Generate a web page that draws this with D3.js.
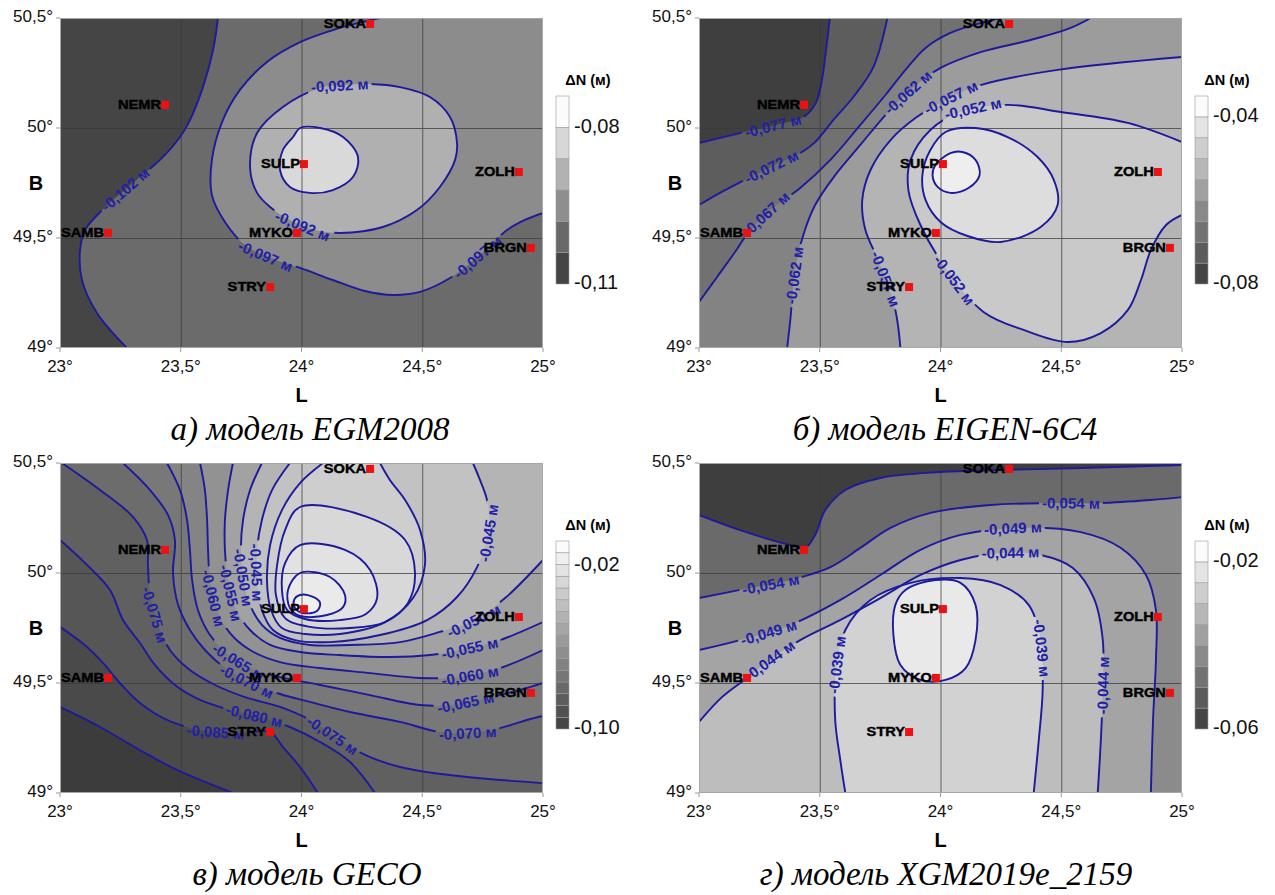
<!DOCTYPE html>
<html>
<head>
<meta charset="utf-8">
<script src="https://cdn.jsdelivr.net/npm/d3@7"></script>
<style>
  body { margin: 0; background: #fff; }
  svg text { font-family: "Liberation Sans", Arial, sans-serif; }
</style>
</head>
<body>
<svg id="chart" width="1275" height="895"></svg>
<script>
// ---------- axes ----------
const lonTicks = [23, 23.5, 24, 24.5, 25];
const lonTickLabels = ["23°", "23,5°", "24°", "24,5°", "25°"];
const latTicks = [49, 49.5, 50, 50.5];
const latTickLabels = ["49°", "49,5°", "50°", "50,5°"];
const lonGrid = [23.5, 24, 24.5];
const latGrid = [49.5, 50];

// ---------- GNSS stations (L, B in degrees) ----------
const stationNames = ["SOKA", "NEMR", "SULP", "ZOLH", "SAMB", "MYKO", "STRY", "BRGN"];
const stationLon = [24.284, 23.435, 24.010, 24.900, 23.199, 23.981, 23.870, 24.950];
const stationLat = [50.473, 50.105, 49.836, 49.800, 49.523, 49.523, 49.277, 49.455];

// ---------- а) EGM2008 ----------
const egmLevels = [-0.102, -0.097, -0.092, -0.087];
const egmContours = [
  { level: -0.102, pts: [[23.654,50.5],[23.634,50.355],[23.592,50.186],[23.538,50.036],[23.497,49.959],[23.414,49.855],[23.29,49.74],[23.166,49.618],[23.104,49.536],[23.083,49.445],[23.091,49.309],[23.153,49.159],[23.277,49.0]] },
  { level: -0.097, pts: [[24.325,50.5],[24.22,50.473],[24.13,50.445],[23.994,50.39],[23.857,50.30],[23.745,50.173],[23.671,50.027],[23.629,49.855],[23.629,49.695],[23.683,49.573],[23.766,49.468],[23.87,49.409],[23.994,49.364],[24.13,49.309],[24.263,49.259],[24.379,49.241],[24.491,49.255],[24.615,49.318],[24.739,49.423],[24.851,49.536],[24.925,49.582],[25.0,49.614]] },
  { level: -0.092, closed: true, pts: [[24.18,50.195],[24.077,50.182],[23.923,50.095],[23.816,49.977],[23.787,49.823],[23.816,49.705],[23.87,49.641],[23.952,49.582],[24.056,49.536],[24.159,49.523],[24.337,49.55],[24.478,49.627],[24.573,49.732],[24.636,49.855],[24.644,49.932],[24.615,50.05],[24.532,50.141],[24.408,50.186],[24.284,50.20]] },
  { level: -0.087, closed: true, pts: [[23.994,50.0],[24.077,50.0],[24.172,49.959],[24.234,49.868],[24.213,49.777],[24.13,49.718],[24.035,49.705],[23.952,49.732],[23.911,49.809],[23.923,49.90],[23.965,49.959]] }
];
const egmLabels = [
  { level: -0.102, at: [23.27, 49.72] },
  { level: -0.097, at: [23.857, 49.43] },
  { level: -0.097, at: [24.73, 49.41] },
  { level: -0.092, at: [24.16, 50.19] },
  { level: -0.092, at: [24.01, 49.57] }
];

// ---------- б) EIGEN-6C4 ----------
const eigenLevels = [-0.077, -0.072, -0.067, -0.062, -0.057, -0.052, -0.047, -0.042];
const eigenContours = [
  { level: -0.077, pts: [[23.0,49.932],[23.17,49.977],[23.335,50.018],[23.439,50.055],[23.484,50.114],[23.509,50.218],[23.526,50.355],[23.542,50.5]] },
  { level: -0.072, pts: [[23.0,49.65],[23.087,49.705],[23.19,49.764],[23.315,49.832],[23.419,49.886],[23.481,49.936],[23.556,50.036],[23.639,50.141],[23.722,50.277],[23.78,50.5]] },
  { level: -0.067, pts: [[23.0,49.209],[23.075,49.323],[23.149,49.436],[23.203,49.523],[23.295,49.627],[23.419,49.727],[23.544,49.855],[23.668,50.014],[23.772,50.15],[23.855,50.264],[23.938,50.364],[24.041,50.432],[24.166,50.477],[24.249,50.5]] },
  { level: -0.062, pts: [[23.365,49.0],[23.378,49.127],[23.398,49.355],[23.432,49.514],[23.481,49.65],[23.564,49.786],[23.668,49.923],[23.772,50.059],[23.876,50.173],[24.0,50.273],[24.166,50.345],[24.373,50.4],[24.539,50.455],[24.622,50.5]] },
  { level: -0.057, pts: [[23.834,49.0],[23.813,49.173],[23.751,49.377],[23.689,49.536],[23.676,49.673],[23.71,49.809],[23.793,49.945],[23.896,50.045],[24.021,50.127],[24.166,50.195],[24.485,50.264],[25.0,50.323]] },
  { level: -0.052, pts: [[25.0,49.936],[24.776,50.023],[24.498,50.073],[24.278,50.105],[24.083,50.073],[23.958,49.991],[23.876,49.855],[23.867,49.718],[23.917,49.559],[24.021,49.364],[24.178,49.164],[24.344,49.082],[24.527,49.027],[24.664,49.068],[24.776,49.173],[24.83,49.309],[24.871,49.445],[24.934,49.559],[25.0,49.605]] },
  { level: -0.047, closed: true, pts: [[24.021,49.982],[24.145,50.0],[24.278,49.959],[24.402,49.868],[24.469,49.764],[24.485,49.65],[24.415,49.55],[24.249,49.482],[24.112,49.509],[24.0,49.573],[23.938,49.673],[23.925,49.786],[23.958,49.9]] },
  { level: -0.042, closed: true, pts: [[23.979,49.832],[24.041,49.886],[24.091,49.891],[24.145,49.855],[24.162,49.786],[24.116,49.727],[24.041,49.705],[23.988,49.732],[23.967,49.786]] }
];
const eigenLabels = [
  { level: -0.077, at: [23.306, 50.005] },
  { level: -0.072, at: [23.303, 49.818] },
  { level: -0.067, at: [23.282, 49.605] },
  { level: -0.062, at: [23.378, 49.332] },
  { level: -0.062, at: [23.863, 50.164] },
  { level: -0.057, at: [23.743, 49.30] },
  { level: -0.057, at: [24.042, 50.141] },
  { level: -0.052, at: [24.133, 50.091] },
  { level: -0.052, at: [24.042, 49.295] }
];

// ---------- в) GECO ----------
const gecoLevels = [-0.090, -0.085, -0.080, -0.075, -0.070, -0.065, -0.060, -0.055, -0.050, -0.045, -0.040, -0.035, -0.030, -0.025, -0.020];
const gecoContours = [
  { level: -0.090, pts: [[23.0,49.391],[23.166,49.3],[23.331,49.195],[23.484,49.105],[23.716,49.0]] },
  { level: -0.085, pts: [[23.0,49.755],[23.112,49.664],[23.178,49.591],[23.248,49.5],[23.331,49.409],[23.443,49.332],[23.58,49.286],[23.745,49.273],[23.87,49.277],[23.923,49.209],[23.994,49.118],[24.068,49.0]] },
  { level: -0.080, pts: [[23.0,50.15],[23.104,50.045],[23.207,49.923],[23.261,49.786],[23.331,49.682],[23.393,49.582],[23.476,49.491],[23.58,49.423],[23.704,49.377],[23.828,49.345],[23.952,49.3],[24.077,49.232],[24.201,49.141],[24.304,49.0]] },
  { level: -0.075, pts: [[23.008,50.5],[23.166,50.377],[23.302,50.255],[23.36,50.15],[23.364,50.036],[23.373,49.9],[23.406,49.764],[23.455,49.65],[23.538,49.559],[23.642,49.491],[23.766,49.436],[23.911,49.391],[24.035,49.332],[24.139,49.255],[24.263,49.173],[24.408,49.118],[24.545,49.091],[24.685,49.073],[24.822,49.059],[25.0,49.045]] },
  { level: -0.070, pts: [[23.261,50.5],[23.373,50.377],[23.447,50.264],[23.476,50.15],[23.468,50.0],[23.489,49.855],[23.538,49.741],[23.6,49.65],[23.683,49.568],[23.787,49.5],[23.911,49.45],[24.035,49.414],[24.201,49.368],[24.408,49.323],[24.573,49.277],[24.698,49.273],[24.822,49.295],[24.934,49.332],[25.0,49.35]] },
  { level: -0.065, pts: [[23.443,50.5],[23.497,50.377],[23.526,50.241],[23.538,50.105],[23.547,49.968],[23.571,49.832],[23.621,49.718],[23.683,49.641],[23.787,49.568],[23.911,49.527],[24.077,49.491],[24.284,49.445],[24.491,49.4],[24.615,49.4],[24.781,49.436],[24.905,49.468],[25.0,49.5]] },
  { level: -0.060, pts: [[23.58,50.5],[23.6,50.377],[23.609,50.241],[23.613,50.105],[23.621,49.968],[23.65,49.832],[23.704,49.727],[23.787,49.65],[23.911,49.595],[24.077,49.568],[24.284,49.545],[24.491,49.523],[24.656,49.527],[24.822,49.568],[25.0,49.65]] },
  { level: -0.055, pts: [[23.716,50.5],[23.696,50.377],[23.683,50.241],[23.683,50.105],[23.696,49.968],[23.729,49.832],[23.787,49.741],[23.87,49.673],[23.994,49.641],[24.159,49.627],[24.366,49.618],[24.532,49.627],[24.698,49.659],[24.822,49.695],[25.0,49.777]] },
  { level: -0.050, pts: [[23.836,50.5],[23.787,50.377],[23.758,50.241],[23.749,50.105],[23.758,49.982],[23.787,49.855],[23.836,49.764],[23.911,49.705],[24.035,49.673],[24.201,49.673],[24.408,49.686],[24.573,49.732],[24.718,49.786],[24.843,49.886],[25.0,50.059]] },
  { level: -0.045, pts: [[23.952,50.5],[23.878,50.377],[23.836,50.241],[23.816,50.105],[23.816,49.968],[23.836,49.832],[23.882,49.741],[23.973,49.695],[24.118,49.686],[24.325,49.718],[24.52,49.786],[24.644,49.891],[24.727,50.027],[24.776,50.195],[24.768,50.332],[24.739,50.423],[24.71,50.5]] },
  { level: -0.040, pts: [[24.089,50.5],[23.994,50.409],[23.919,50.286],[23.87,50.127],[23.857,49.968],[23.874,49.832],[23.919,49.75],[24.014,49.723],[24.159,49.723],[24.346,49.777],[24.462,49.886],[24.511,50.036],[24.491,50.195],[24.429,50.332],[24.366,50.423],[24.325,50.5]] },
  { level: -0.035, closed: true, pts: [[23.994,50.3],[24.271,50.255],[24.429,50.15],[24.47,50.0],[24.441,49.864],[24.346,49.777],[24.201,49.75],[24.035,49.755],[23.932,49.795],[23.894,49.9],[23.899,50.036],[23.932,50.195]] },
  { level: -0.030, closed: true, pts: [[23.994,50.127],[24.18,50.105],[24.284,50.014],[24.313,49.886],[24.267,49.814],[24.159,49.786],[24.014,49.791],[23.94,49.832],[23.919,49.923],[23.932,50.045]] },
  { level: -0.025, closed: true, pts: [[23.994,50.0],[24.118,49.982],[24.18,49.9],[24.172,49.845],[24.106,49.809],[23.994,49.805],[23.952,49.841],[23.944,49.923]] },
  { level: -0.020, closed: true, pts: [[23.994,49.9],[24.048,49.891],[24.077,49.864],[24.064,49.827],[24.006,49.818],[23.973,49.841],[23.969,49.877]] }
];
const gecoLabels = [
  { level: -0.085, at: [23.642, 49.273] },
  { level: -0.080, at: [23.80, 49.332] },
  { level: -0.075, at: [23.393, 49.809] },
  { level: -0.075, at: [24.13, 49.264] },
  { level: -0.070, at: [23.774, 49.505] },
  { level: -0.070, at: [24.689, 49.268] },
  { level: -0.065, at: [23.745, 49.605] },
  { level: -0.065, at: [24.677, 49.414] },
  { level: -0.060, at: [23.629, 49.886] },
  { level: -0.060, at: [24.698, 49.527] },
  { level: -0.055, at: [23.704, 49.909] },
  { level: -0.055, at: [24.698, 49.65] },
  { level: -0.050, at: [23.758, 49.982] },
  { level: -0.050, at: [24.71, 49.791] },
  { level: -0.045, at: [23.82, 50.005] },
  { level: -0.045, at: [24.756, 50.186] }
];

// ---------- г) XGM2019e_2159 ----------
const xgmLevels = [-0.059, -0.054, -0.049, -0.044, -0.039, -0.034];
const xgmContours = [
  { level: -0.059, pts: [[23.0,50.264],[23.17,50.195],[23.378,50.127],[23.44,50.114],[23.481,50.173],[23.523,50.286],[23.606,50.377],[23.751,50.432],[24.0,50.459],[24.249,50.468],[24.581,50.477],[25.0,50.491]] },
  { level: -0.054, pts: [[23.0,49.886],[23.17,49.923],[23.378,49.968],[23.544,50.027],[23.668,50.114],[23.793,50.205],[23.959,50.273],[24.207,50.309],[24.456,50.318],[24.664,50.318],[24.871,50.332],[25.0,50.345]] },
  { level: -0.049, pts: [[23.0,49.65],[23.17,49.695],[23.378,49.764],[23.584,49.877],[23.751,49.991],[23.917,50.105],[24.083,50.173],[24.332,50.205],[24.581,50.186],[24.747,50.114],[24.851,49.991],[24.892,49.832],[24.892,49.605],[24.88,49.332],[24.871,49.0]] },
  { level: -0.044, pts: [[23.0,49.323],[23.095,49.436],[23.199,49.523],[23.295,49.605],[23.419,49.695],[23.584,49.786],[23.751,49.886],[23.917,49.991],[24.083,50.059],[24.249,50.091],[24.415,50.082],[24.548,50.023],[24.635,49.886],[24.672,49.695],[24.672,49.468],[24.664,49.241],[24.651,49.0]] },
  { level: -0.039, pts: [[23.606,49.0],[23.585,49.15],[23.564,49.332],[23.568,49.559],[23.606,49.741],[23.71,49.877],[23.876,49.955],[24.083,49.977],[24.249,49.945],[24.365,49.855],[24.415,49.695],[24.423,49.468],[24.407,49.241],[24.386,49.0]] },
  { level: -0.034, closed: true, pts: [[23.855,49.923],[23.979,49.968],[24.083,49.955],[24.145,49.855],[24.145,49.695],[24.104,49.568],[24.021,49.514],[23.917,49.514],[23.834,49.582],[23.805,49.718],[23.813,49.855]] }
];
const xgmLabels = [
  { level: -0.054, at: [23.295, 49.955] },
  { level: -0.054, at: [24.539, 50.309] },
  { level: -0.049, at: [23.286, 49.741] },
  { level: -0.049, at: [24.299, 50.209] },
  { level: -0.044, at: [23.307, 49.582] },
  { level: -0.044, at: [24.29, 50.091] },
  { level: -0.044, at: [24.668, 49.491] },
  { level: -0.039, at: [23.568, 49.582] },
  { level: -0.039, at: [24.415, 49.659] }
];

// ---------- colour-bar ranges ----------
const egmBar = { min: -0.110, max: -0.074, bands: 6, ticks: [-0.08, -0.11] };
const eigenBar = { min: -0.080, max: -0.035, bands: 9, ticks: [-0.04, -0.08] };
const gecoBar = { min: -0.100, max: -0.008, bands: 16, ticks: [-0.02, -0.10] };
const xgmBar = { min: -0.060, max: -0.015, bands: 9, ticks: [-0.02, -0.06] };

// ---------- layout & styles ----------
const PW = 483, PH = 330;
const panels = [
  { key: "a", x: 60, y: 18, caption: "а) модель EGM2008", capX: 310,
    levels: egmLevels, contours: egmContours, labels: egmLabels, bar: egmBar,
    fills: ["#454545", "#6b6b6b", "#8c8c8c", "#b0b0b0", "#d9d9d9"] },
  { key: "b", x: 699, y: 18, caption: "б) модель EIGEN-6C4", capX: 945,
    levels: eigenLevels, contours: eigenContours, labels: eigenLabels, bar: eigenBar,
    fills: ["#3f3f3f", "#5d5d5d", "#717171", "#838383", "#9c9c9c", "#b4b4b4", "#c9c9c9", "#dddddd", "#eeeeee"] },
  { key: "c", x: 60, y: 463, caption: "в) модель GECO", capX: 307,
    levels: gecoLevels, contours: gecoContours, labels: gecoLabels, bar: gecoBar,
    fills: ["#3c3c3c", "#4a4a4a", "#565656", "#606060", "#6c6c6c", "#787878", "#848484", "#929292", "#a2a2a2", "#b4b4b4", "#c2c2c2", "#cecece", "#d8d8d8", "#e2e2e2", "#eaeaea", "#f0f0f0"] },
  { key: "d", x: 699, y: 463, caption: "г) модель XGM2019e_2159", capX: 946,
    levels: xgmLevels, contours: xgmContours, labels: xgmLabels, bar: xgmBar,
    fills: ["#3e3e3e", "#6a6a6a", "#8b8b8b", "#a4a4a4", "#bdbdbd", "#d2d2d2", "#e9e9e9"] }
];
// point on the high side of every contour (the SULP maximum)
const peak = [stationLon[2], stationLat[2]];

const LINE_COLOR = "#1b1b9c";
const svg = d3.select("#chart");
const fmtLevel = v => d3.format(".3f")(v).replace("−", "-").replace(".", ",") + " м";
const fmtTick = v => d3.format(".2f")(v).replace("−", "-").replace(".", ",");

// clockwise perimeter parameter of a point lying on the frame
function perimT(q) {
  const [qx, qy] = q;
  const d = [Math.abs(qy), Math.abs(qx - PW), Math.abs(qy - PH), Math.abs(qx)];
  const m = Math.min(...d);
  if (m === d[0]) return qx;
  if (m === d[1]) return PW + qy;
  if (m === d[2]) return PW + PH + (PW - qx);
  return 2 * PW + PH + (PH - qy);
}
const frameCorners = [[0, 0, 0], [PW, 0, PW], [PW, PH, PW + PH], [0, PH, 2 * PW + PH]];
function closingCorners(pts, cw) {
  const P = 2 * (PW + PH);
  const tEnd = perimT(pts[pts.length - 1]), tStart = perimT(pts[0]);
  const span = cw ? (tStart - tEnd + P) % P : (tEnd - tStart + P) % P;
  return frameCorners
    .map(c => ({ p: [c[0], c[1]], off: cw ? (c[2] - tEnd + P) % P : (tEnd - c[2] + P) % P }))
    .filter(c => c.off > 0 && c.off < span)
    .sort((a, b) => a.off - b.off)
    .map(c => c.p);
}

function drawPanel(p) {
  const g = svg.append("g").attr("transform", `translate(${p.x},${p.y})`);
  const x = d3.scaleLinear().domain([23, 25]).range([0, PW]);
  const y = d3.scaleLinear().domain([49, 50.5]).range([PH, 0]);
  const defs = g.append("defs");
  const clipId = "clip-" + p.key, maskId = "mask-" + p.key;
  defs.append("clipPath").attr("id", clipId).append("rect").attr("width", PW).attr("height", PH);
  const mask = defs.append("mask").attr("id", maskId).attr("maskUnits", "userSpaceOnUse")
    .attr("x", -20).attr("y", -20).attr("width", PW + 40).attr("height", PH + 40);
  mask.append("rect").attr("x", -20).attr("y", -20).attr("width", PW + 40).attr("height", PH + 40).attr("fill", "#fff");

  const openLine = d3.line().x(d => x(d[0])).y(d => y(d[1])).curve(d3.curveCatmullRom.alpha(0.5));
  const closedLine = d3.line().x(d => x(d[0])).y(d => y(d[1])).curve(d3.curveCatmullRomClosed.alpha(0.5));
  const hi = [x(peak[0]), y(peak[1])];

  // filled bands: paint each super-level region in ascending order
  const fillG = g.append("g").attr("clip-path", `url(#${clipId})`);
  fillG.append("rect").attr("width", PW).attr("height", PH).attr("fill", p.fills[0]);
  const sorted = p.contours.slice().sort((a, b) => a.level - b.level);
  sorted.forEach(c => {
    const color = p.fills[p.levels.indexOf(c.level) + 1];
    const pts = c.pts.map(d => [x(d[0]), y(d[1])]);
    let d;
    if (c.closed) {
      d = closedLine(c.pts);
      if (!d3.polygonContains(pts, hi)) d = `M0,0H${PW}V${PH}H0Z` + d;
    } else {
      const cw = closingCorners(pts, true), ccw = closingCorners(pts, false);
      const use = d3.polygonContains(pts.concat(cw), hi) ? cw : ccw;
      d = openLine(c.pts) + use.map(q => `L${q[0]},${q[1]}`).join("") + "Z";
    }
    fillG.append("path").attr("d", d).attr("fill", color).attr("fill-rule", "evenodd");
  });

  // graticule
  const gridG = g.append("g").attr("stroke", "#3a3a3a").attr("stroke-width", 1).attr("opacity", 0.75);
  gridG.selectAll("line.v").data(lonGrid).join("line")
    .attr("x1", d => x(d) + 0.5).attr("x2", d => x(d) + 0.5).attr("y1", 0).attr("y2", PH);
  gridG.selectAll("line.h").data(latGrid).join("line")
    .attr("y1", d => y(d) + 0.5).attr("y2", d => y(d) + 0.5).attr("x1", 0).attr("x2", PW);

  // contour lines
  const lineG = g.append("g").attr("clip-path", `url(#${clipId})`).append("g").attr("mask", `url(#${maskId})`);
  const nodes = p.contours.map(c => {
    const path = lineG.append("path")
      .attr("d", c.closed ? closedLine(c.pts) : openLine(c.pts))
      .attr("fill", "none").attr("stroke", LINE_COLOR).attr("stroke-width", 1.9);
    return { level: c.level, node: path.node() };
  });

  // contour labels placed along their line
  const labelG = g.append("g");
  p.labels.forEach(lb => {
    const target = [x(lb.at[0]), y(lb.at[1])];
    let best = null;
    nodes.filter(n => n.level === lb.level).forEach(n => {
      const len = n.node.getTotalLength();
      for (let l = 0; l <= len; l += 1) {
        const pt = n.node.getPointAtLength(l);
        const dd = (pt.x - target[0]) ** 2 + (pt.y - target[1]) ** 2;
        if (!best || dd < best.dd) best = { dd, node: n.node, l, len };
      }
    });
    if (!best) return;
    const a = best.node.getPointAtLength(Math.max(0, best.l - 6));
    const b = best.node.getPointAtLength(Math.min(best.len, best.l + 6));
    let ang = Math.atan2(b.y - a.y, b.x - a.x) * 180 / Math.PI;
    if (ang > 90) ang -= 180;
    if (ang < -90) ang += 180;
    const c = best.node.getPointAtLength(best.l);
    const tr = `translate(${c.x},${c.y}) rotate(${ang})`;
    const t = labelG.append("text").attr("transform", tr)
      .attr("text-anchor", "middle").attr("dy", "0.36em")
      .attr("font-size", 15).attr("font-weight", "bold").attr("fill", "#2020a8")
      .text(fmtLevel(lb.level));
    const w = t.node().getComputedTextLength();
    mask.append("rect").attr("transform", tr)
      .attr("x", -w / 2 - 3).attr("y", -7).attr("width", w + 6).attr("height", 14).attr("fill", "#000");
  });

  // stations
  const st = g.append("g");
  stationNames.forEach((name, i) => {
    const sx = x(stationLon[i]), sy = y(stationLat[i]);
    st.append("rect").attr("x", sx - 4).attr("y", sy - 4).attr("width", 8).attr("height", 8).attr("fill", "#ee1111");
    st.append("text").attr("transform", `translate(${sx - 4},${sy + 4.3}) scale(1.22,1)`)
      .attr("text-anchor", "end").attr("font-size", 12).attr("font-weight", "bold")
      .attr("fill", "#000").attr("stroke", "#000").attr("stroke-width", 0.4)
      .text(name);
  });

  // frame and ticks
  g.append("rect").attr("x", 0.5).attr("y", 0.5).attr("width", PW - 1).attr("height", PH - 1)
    .attr("fill", "none").attr("stroke", "#a8a8a8");
  const ax = g.append("g").attr("fill", "#111").attr("font-size", 17);
  lonTicks.forEach((v, i) => {
    g.append("line").attr("x1", x(v)).attr("x2", x(v)).attr("y1", PH).attr("y2", PH + 4).attr("stroke", "#999");
    ax.append("text").attr("x", x(v)).attr("y", PH + 20).attr("text-anchor", "middle")
      .attr("dominant-baseline", "middle").text(lonTickLabels[i]);
  });
  latTicks.forEach((v, i) => {
    g.append("line").attr("x1", -4).attr("x2", 0).attr("y1", y(v)).attr("y2", y(v)).attr("stroke", "#999");
    ax.append("text").attr("x", -7).attr("y", y(v)).attr("text-anchor", "end")
      .attr("dominant-baseline", "middle").text(latTickLabels[i]);
  });
  g.append("text").attr("x", PW / 2).attr("y", PH + 54).attr("text-anchor", "middle")
    .attr("font-size", 20).attr("font-weight", "bold").text("L");
  g.append("text").attr("x", -24).attr("y", 172).attr("text-anchor", "middle")
    .attr("font-size", 20).attr("font-weight", "bold").text("B");

  // colour bar
  const bx = PW + 13, bTop = 78, bBot = 266;
  const by = d3.scaleLinear().domain([p.bar.min, p.bar.max]).range([bBot, bTop]);
  const step = (p.bar.max - p.bar.min) / p.bar.bands;
  const bandCol = d3.interpolateRgb("#454545", "#fbfbfb");
  const bar = g.append("g");
  d3.range(p.bar.bands).forEach(i => {
    const v0 = p.bar.min + i * step, v1 = v0 + step;
    bar.append("rect").attr("x", bx).attr("y", by(v1)).attr("width", 13).attr("height", by(v0) - by(v1))
      .attr("fill", bandCol(i / (p.bar.bands - 1))).attr("stroke", "#9a9a9a").attr("stroke-width", 0.6);
  });
  bar.append("text").attr("x", bx + 32).attr("y", bTop - 11).attr("text-anchor", "middle")
    .attr("font-size", 14.5).attr("font-weight", "bold").text("ΔN (м)");
  p.bar.ticks.forEach(v => {
    bar.append("text").attr("x", bx + 18).attr("y", by(v)).attr("dominant-baseline", "middle")
      .attr("font-size", 20).attr("fill", "#111").text(fmtTick(v));
  });

  // caption
  svg.append("text").attr("x", p.capX).attr("y", p.y + PH + 92).attr("text-anchor", "middle")
    .style("font-family", "'Liberation Serif', 'Times New Roman', serif")
    .attr("font-style", "italic").attr("font-size", 33).attr("fill", "#000").text(p.caption);
}

panels.forEach(drawPanel);
</script>
</body>
</html>
